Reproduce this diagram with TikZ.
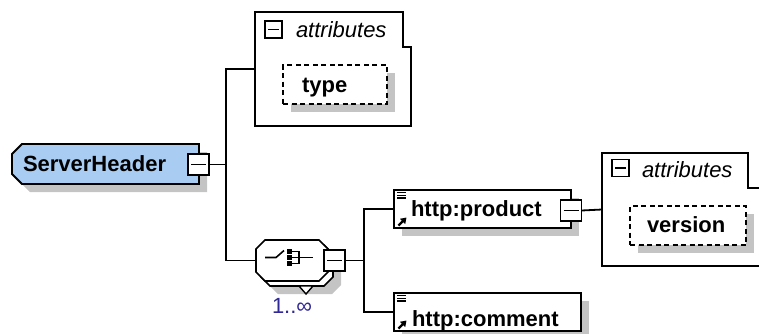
\documentclass[tikz,border=0pt]{standalone}
\usepackage{fontspec}
\setmainfont{Liberation Sans}
\usetikzlibrary{arrows.meta,shadows}
\definecolor{elemblue}{RGB}{168,204,242}
\definecolor{shadowgrey}{RGB}{196,196,196}
\definecolor{occurblue}{RGB}{48,40,150}
\begin{document}
\begin{tikzpicture}[x=1pt,y=-1pt,
  every node/.style={inner sep=0pt, outer sep=0pt},
  wire/.style={line width=1.8pt},
  outline/.style={draw=black, line width=1.8pt, fill=white},
  shadowed/.style={drop shadow={shadow xshift=8pt, shadow yshift=-8pt, fill=shadowgrey, opacity=1}},
  elembox/.style={outline, shadowed, anchor=north west},
  attrbox/.style={draw=black, line width=1.7pt, dash pattern=on 5pt off 3.5pt, fill=white, shadowed, anchor=north west},
  boldtext/.style={anchor=base west, font=\fontsize{22}{26}\selectfont\bfseries},
  italtext/.style={anchor=base west, font=\fontsize{22}{26}\selectfont\itshape},
  occtext/.style={anchor=base west, font=\fontsize{22}{26}\selectfont, text=occurblue},
  minusbox/.style={draw=black, line width=1.7pt, fill=white, minimum width=21pt, minimum height=21pt,
    path picture={\draw[line width=1.8pt] ([xshift=3pt]path picture bounding box.west) -- ([xshift=-3pt]path picture bounding box.east);}},
  smallminus/.style={minusbox, minimum width=17pt, minimum height=17pt}
]
\useasboundingbox (0,0) rectangle (759,333);
\clip (0,0) rectangle (759,333);

% trunk lines of the two branching points
\coordinate (trunkA) at (226,0);
\coordinate (trunkB) at (364,0);

% ---------------- ServerHeader element ----------------
\fill[shadowgrey] (30,152) -- (207,152) -- (207,192) -- (30,192) -- (20,182) -- (20,162) -- cycle;
\draw[draw=black, line width=1.8pt, fill=elemblue]
  (22,144) -- (199,144) -- (199,184) -- (22,184) -- (12,174) -- (12,154) -- cycle;
\node[boldtext] (server) at (23,171.5) {ServerHeader};
\node[minusbox] (serverminus) at (198.5,164.5) {};

% ---------------- attributes of ServerHeader ----------------
\node[minimum width=156pt, minimum height=114pt, anchor=north west] (attrA) at (255,12) {};
\draw[outline] (attrA.north west) -- ++(148,0) -- ++(0,35) -- ++(8,0)
  -- (attrA.south east) -- (attrA.south west) -- cycle;
\node[smallminus] (attrAminus) at (273.5,29.5) {};
\node[italtext] (attrAtext) at (296,37) {attributes};
\node[attrbox, minimum width=104pt, minimum height=39pt] (typebox) at (283,65) {};
\node[boldtext] (typetext) at (302,92.7) {type};

% ---------------- sequence compositor ----------------
\node[minimum width=72pt, minimum height=41pt] (seq) at (292,260.5) {};
\fill[shadowgrey] (278,253) -- (332,253) -- (341,262) -- (341,285) -- (332,294) -- (278,294) -- (269,285) -- (269,262) -- cycle;
\draw[outline, line width=1.6pt] (270,245) -- (324,245) -- (333,254) -- (333,277) -- (324,286) -- (270,286) -- (261,277) -- (261,254) -- cycle;
\draw[outline, line width=1.6pt] (265,240) -- (319,240) -- (328,249) -- (328,272) -- (319,281) -- (265,281) -- (256,272) -- (256,249) -- cycle;
\draw[outline, line width=1.4pt] (299,286) -- (313,286) -- (306,294) -- cycle;
% sequence symbol
\draw[line width=1.6pt] (265,257.5) -- (276,257.5) -- (284,250.5);
\foreach \sy in {249.3,255.3,261.3}
  \fill[black] (287.3,\sy) rectangle ++(4.8,4.6);
\draw[line width=1.6pt] (292,251.5) -- (299,251.5) -- (299,263.5) -- (292,263.5);
\draw[line width=1.6pt] (292,257.5) -- (313,257.5);
\node[minusbox] (seqminus) at (334.5,260.5) {};
\node[occtext] (occurs) at (272,313) {1..∞};

% ---------------- child elements ----------------
\node[elembox, minimum width=177pt, minimum height=38pt] (product) at (394,190) {};
\node[boldtext] (producttext) at (411,216.7) {http:product};
\node[minusbox] (productminus) at (571,210.5) {};

\node[elembox, minimum width=187pt, minimum height=38pt] (comment) at (394,293) {};
\node[boldtext] (commenttext) at (412,326) {http:comment};

% reference markers of the child elements
\foreach \n in {product,comment} {
  \foreach \dy in {2.6,5.3,8}
    \draw[line width=1.2pt] ([shift={(3,\dy)}]\n.north west) -- ++(8.5,0);
  \draw[line width=2.3pt, -{Triangle[length=5.5pt,width=7pt]}]
    ([shift={(4.5,-2.5)}]\n.south west) -- ++(8,-8);
}

% ---------------- attributes of http:product ----------------
\node[minimum width=164pt, minimum height=113pt, anchor=north west] (attrB) at (602,153) {};
\draw[outline] (attrB.north west) -- ++(146,0) -- ++(0,35) -- ++(18,0)
  -- (attrB.south east) -- (attrB.south west) -- cycle;
\node[smallminus] (attrBminus) at (620.5,168) {};
\node[italtext] (attrBtext) at (642,177.3) {attributes};
\node[attrbox, minimum width=116pt, minimum height=39pt] (versionbox) at (630,206) {};
\node[boldtext] (versiontext) at (647,232.7) {version};

% ---------------- connectors ----------------
\draw[wire] (serverminus.east) -- (serverminus.east -| trunkA);
\draw[wire] (attrA.west) -- (attrA.west -| trunkA) -- (seq.west -| trunkA) -- (seq.west);
\draw[wire] (seqminus.east) -- (seqminus.east -| trunkB);
\draw[wire] (product.west) -- (product.west -| trunkB) -- (comment.west -| trunkB) -- (comment.west);
\draw[wire] (productminus.east) -- (attrB.west);
\end{tikzpicture}
\end{document}
